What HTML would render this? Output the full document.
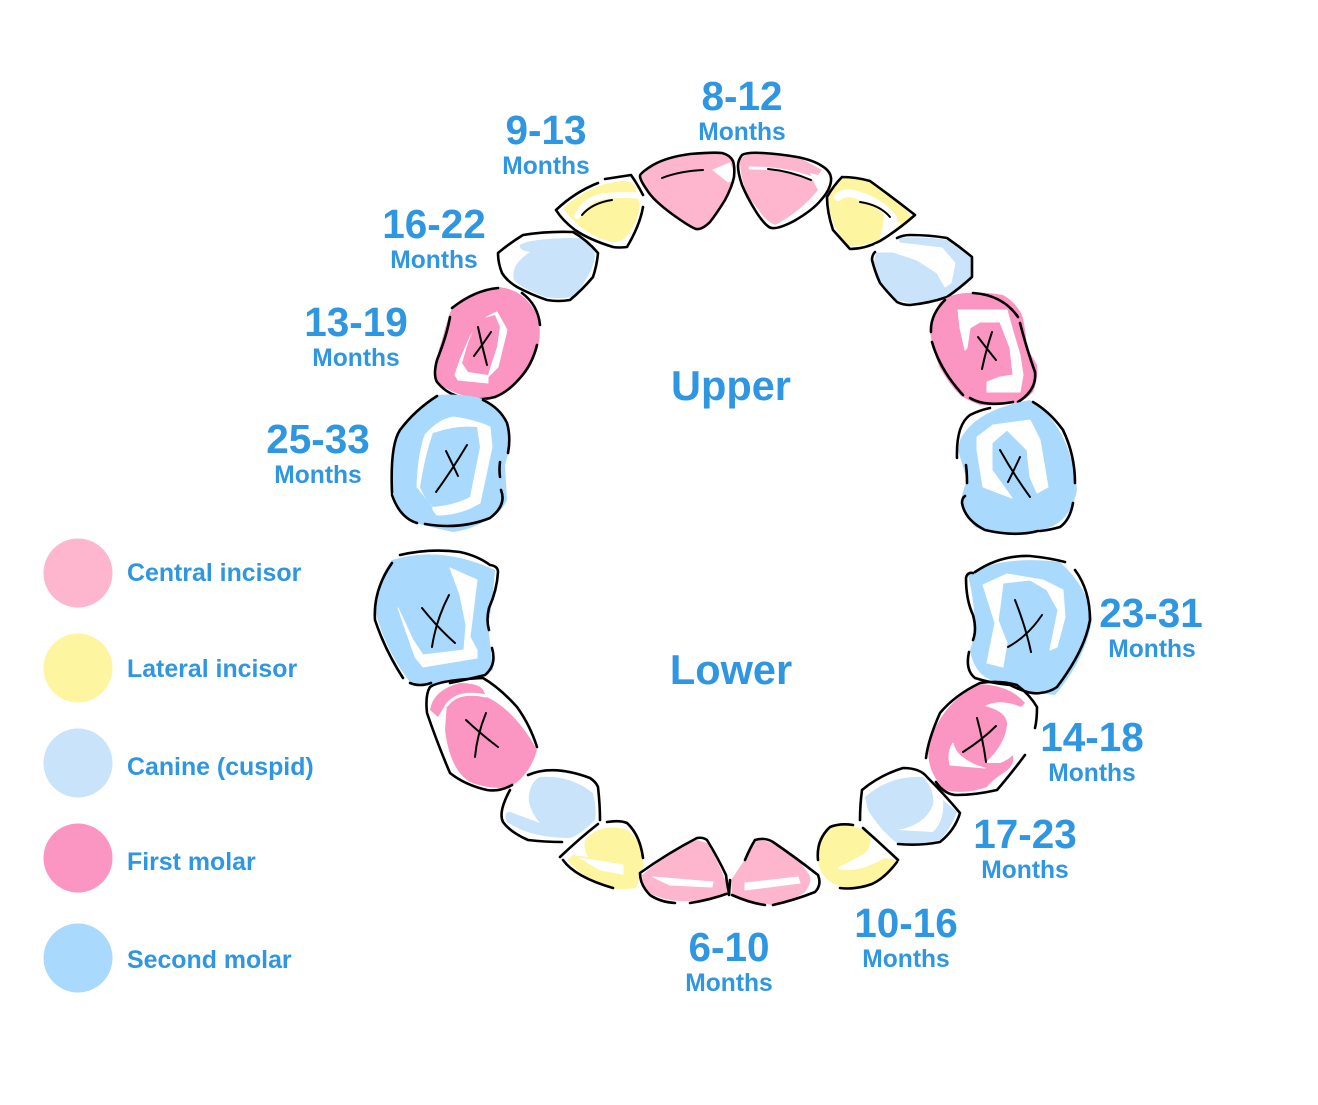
<!DOCTYPE html>
<html><head><meta charset="utf-8"><title>Teeth</title>
<style>
html,body{margin:0;padding:0;background:#fff}
svg{display:block}
text{font-family:"Liberation Sans",Arial,sans-serif;font-weight:bold;fill:#2F96E2;text-anchor:middle}
.n{font-size:40.5px}.m{font-size:24.6px}.t{font-size:41.5px}.l{font-size:24.9px;text-anchor:start}
.o{fill:none;stroke:#000;stroke-width:2.6;stroke-linecap:round;stroke-linejoin:round}
.x{fill:none;stroke:#000;stroke-width:2;stroke-linecap:round}
.w{fill:#fff;stroke:#fff;stroke-width:1;stroke-linejoin:round}.ws{fill:none;stroke:#fff;stroke-linecap:round}
.a{fill:#FDB6CE}.b{fill:#FDF5A0}.c{fill:#C9E3FA}.d{fill:#FB96C3}.e{fill:#A9DAFD}
</style></head><body>
<svg width="1318" height="1105" viewBox="0 0 1318 1105" xmlns="http://www.w3.org/2000/svg">
<rect width="1318" height="1105" fill="#fff"/>

<!-- upper central left -->
<path class="a" d="M653 165Q667 157 690 154Q713 152 722 153Q730 155 733 161L732 187Q725 200 717 213Q710 222 702 229Q696 229 690 227Q672 214 653 200Q647 190 641 180Q640 173 653 165Z"/>
<path class="w" d="M713 170L730 163L735 180L728 182Z"/>
<path class="o" d="M653 165Q667 157 690 154Q713 152 722 153Q730 155 733 161Q735 167 734 177Q732 187 725 200Q717 213 710 222Q702 230 696 229Q690 227 672 214Q653 200 647 190Q640 180 640 176Q640 173 653 165Z"/>
<path class="x" d="M662 178Q680 171 703 170"/>

<!-- upper central right -->
<path class="a" d="M740 160Q745 152 765 152L800 158L822 170L818 175L810 173Q815 185 818 190Q800 212 775 225Q765 220 760 212L747 195Q740 175 740 160Z"/>
<path class="ws" stroke-width="3" d="M750 168Q785 168 812 178"/>
<path class="o" d="M742 155Q747 152 763 153Q780 154 797 157Q813 160 822 166Q832 172 831 181Q830 190 821 200Q813 210 794 221Q775 231 769 227Q763 223 755 210Q747 197 742 185Q738 173 738 166Q738 160 742 155Z"/>
<path class="x" d="M768 169Q790 171 811 180"/>

<!-- upper lateral left -->
<path class="b" d="M563 208Q590 184 622 181Q636 181 636 190L640 205Q637 225 625 238Q615 245 605 240Q580 232 563 208Z"/>
<path class="ws" stroke-width="6" d="M577 216Q586 198 606 196Q625 194 642 196"/>
<path class="o" d="M556 210Q575 192 598 183M605 179L631 175Q638 185 643 195M643 207Q640 225 627 247Q618 248 613 247Q590 240 575 230Q562 220 556 210"/>
<path class="x" d="M582 215Q592 203 612 200"/>

<!-- upper lateral right -->
<path class="b" d="M828 195Q835 180 845 178Q860 178 872 182Q895 197 912 217Q900 230 880 240Q860 247 848 246Q835 232 830 212Z"/>
<path class="ws" stroke-width="8" d="M838 197Q846 190 860 196Q880 202 893 218"/>
<path class="w" d="M885 212L900 224L880 240L883 228Z"/>
<path class="o" d="M842 177Q856 177 870 181M870 181Q892 197 915 215Q898 230 880 241Q865 249 850 249Q842 240 833 230Q827 212 827 197M827 197Q834 185 842 177"/>
<path class="x" d="M860 202Q880 205 890 217"/>

<!-- upper canine left -->
<path class="c" d="M520 245Q530 238 580 238Q595 245 595 257Q592 275 573 297Q550 300 540 295Q520 287 514 280Q510 265 530 252Q518 250 520 245Z"/>
<path class="o" d="M498 253Q510 243 523 235Q548 231 573 232Q587 240 598 253Q597 265 593 277Q582 290 570 300Q558 302 547 300Q532 295 517 287Q507 281 502 273Q498 263 498 253Z"/>

<!-- upper canine right -->
<path class="c" d="M897 238Q925 236 947 240L971 258L971 277Q960 290 947 297Q930 303 910 303L897 300L880 283L874 262L876 252Z"/>
<path class="w" d="M876 252L893 252L917 260L937 273L945 287L951 283L955 263L942 248L900 243L897 238L875 245Z"/>
<path class="o" d="M897 238Q903 235 910 235Q930 235 947 238Q960 247 972 257L972 277Q960 288 947 297Q930 303 910 305Q903 305 897 302Q888 293 880 283Q875 272 872 260Q872 255 875 252"/>

<!-- upper first molar left -->
<path class="d" d="M452 308C460 298 478 289 498 287C512 288 528 295 538 317C541 330 540 340 537 350C533 362 528 370 522 377C512 388 505 393 495 397C482 400 472 399 462 395C452 392 442 387 435 380C433 372 436 358 442 340C445 328 448 318 452 308Z"/>
<path class="w" d="M497 312L507 330L498 367L488 377L488 383L458 380L455 375L460 360L470 337Q480 318 497 312Z"/>
<path class="d" d="M477 320L495 315L500 327L497 347L488 375L468 372L462 363L468 343Z"/>
<path class="o" d="M452 308Q475 290 498 288M522 293Q538 305 540 325M537 345Q532 365 520 378Q508 392 495 397M457 396Q475 402 495 397M437 382Q445 392 457 396M450 317Q447 335 437 360Q433 375 437 382"/>
<path class="x" d="M478 327Q482 346 487 365M491 332Q483 344 474 356"/>

<!-- upper first molar right -->
<path class="d" d="M940 302C948 296 958 293 967 293C980 292 992 293 1003 295C1012 300 1018 307 1022 315C1025 326 1026 337 1027 348C1030 354 1034 359 1037 365C1038 375 1036 385 1033 392C1028 397 1024 400 1020 402C1006 405 993 406 980 405C972 402 966 399 960 395C952 387 946 378 940 368C935 356 932 344 930 332C932 320 935 310 940 302Z"/>
<path class="w" d="M958 310L1007 310L1012 328L1020 355L1023 375L1020 392L987 392L987 382L1000 377L1013 375L1010 348L1000 322L980 322L970 328L967 348L965 350L960 328Z"/>
<path class="o" d="M931 332Q930 315 945 300M973 293Q1003 295 1018 317M1020 323Q1027 350 1035 372Q1037 390 1018 402M1013 402Q985 407 970 398M963 395Q940 370 932 342"/>
<path class="x" d="M978 337Q987 349 996 360M992 332Q986 350 982 369"/>

<!-- upper second molar left -->
<path class="e" d="M393 467Q394 445 400 430Q415 410 437 395Q465 393 487 400Q500 410 507 423Q511 435 510 447L505 465L507 500Q500 515 487 520Q470 530 453 532Q435 528 423 525Q405 520 398 510Q390 490 393 467Z"/>
<path class="w" d="M417 487Q418 455 425 435Q438 420 453 417Q475 420 490 427L492 447L480 503Q460 515 437 515Q432 510 433 507Z"/>
<path class="e" d="M420 487Q425 455 433 433Q455 425 477 427L480 447L470 497Q455 505 433 507Q425 500 420 487Z"/>
<path class="o" d="M392 493Q390 445 400 430Q415 410 437 396M483 400Q500 408 507 423Q511 437 508 453M500 462Q499 470 500 477M501 490Q507 505 490 518Q460 530 425 524M417 523Q400 518 392 495"/>
<path class="x" d="M467 445Q452 470 436 492M446 451Q452 463 458 476"/>

<!-- lower second molar left -->
<path class="e" d="M392 560Q440 545 495 570Q492 610 488 625L493 670Q470 680 430 685L410 682Q385 650 375 610Q376 580 392 560Z"/>
<path class="w" d="M450 568L477 580L470 637L477 650L477 658L423 667L415 657L398 608L413 640L423 655L464 650L466 625L460 595Z"/>
<path class="o" d="M400 555Q430 548 460 552Q478 556 490 565Q498 566 498 572Q497 590 489 608Q486 620 489 630M492 648Q497 665 485 675Q465 680 450 683M431 683Q420 687 410 683M403 678Q385 650 375 620Q373 590 392 563"/>
<path class="x" d="M449 595Q436 620 432 647M422 608Q438 628 455 643"/>

<!-- lower first molar left -->
<path class="d" d="M430 710Q433 690 460 683Q485 683 485 696Q515 710 537 750Q530 775 510 787Q490 790 470 782Q450 770 445 730L447 702L438 717Z"/>
<path class="ws" stroke-width="3" d="M447 705Q458 690 486 696"/>
<path class="o" d="M430 687Q440 680 483 678Q500 688 517 707Q530 725 537 747M512 785Q500 792 487 790Q465 785 450 773Q438 745 427 713Q425 695 430 687"/>
<path class="x" d="M486 713Q477 735 475 757M466 720Q482 735 498 747"/>

<!-- upper second molar right -->
<path class="e" d="M960 440Q975 410 1030 400Q1070 425 1077 490Q1070 525 1040 530Q1000 538 975 527Q962 512 962 495L967 480L958 450Z"/>
<path class="w" d="M977 437L993 425L1030 420L1040 440L1048 487L1037 493L1030 477L1027 450L1007 430L992 443L992 470L1012 498L983 487L977 450Z"/>
<path class="o" d="M957 458Q956 425 970 415Q980 410 990 408M1033 402Q1050 412 1063 430Q1075 455 1075 483M1073 503Q1070 520 1060 527Q1050 530 1040 531M1038 531Q1015 537 985 530Q965 520 962 503Q962 498 965 496M966 465Q967 473 967 483"/>
<path class="x" d="M1000 450Q1014 475 1030 497M1020 457Q1014 470 1008 482"/>

<!-- lower second molar right -->
<path class="e" d="M968 575Q1000 555 1060 562Q1090 590 1092 620Q1085 660 1055 695L1035 693L1003 683Q975 680 970 650Q980 625 968 575Z"/>
<path class="w" d="M983 585L1007 574L1043 580L1063 590L1065 617L1057 647L1050 650L1058 610L1047 590L1030 580L1003 583L1000 607L998 620L1007 643L1003 667L987 663L995 623Z"/>
<path class="o" d="M973 573Q967 572 966 578Q966 600 973 615Q977 630 973 640M969 652Q965 670 975 678Q990 683 1010 685Q1030 695 1040 693Q1050 692 1057 687Q1085 650 1090 620Q1090 590 1075 570M975 572Q1000 555 1030 556Q1050 558 1065 562"/>
<path class="x" d="M1015 600Q1026 628 1031 652M1042 615Q1028 636 1008 647"/>

<!-- lower first molar right -->
<path class="d" d="M978 684Q1010 685 1025 703L1021 707Q1000 698 985 706Q1008 712 1007 725Q1005 745 985 763L1000 763Q1008 760 1013 755Q1015 765 1005 772Q992 780 987 787Q965 795 945 790Q925 770 929 745Q940 705 978 684Z"/>
<path class="w" d="M953 743Q947 752 950 765L985 768Q972 765 962 757Q955 752 953 743Z"/>
<path class="o" d="M980 683Q1000 680 1017 685Q1030 695 1037 707Q1037 720 1035 728M1025 755Q1010 775 997 790Q975 795 957 795Q945 795 936 782M926 758Q928 740 940 713Q955 695 980 683"/>
<path class="x" d="M977 718Q983 740 986 762M996 726Q982 740 963 752"/>

<!-- lower canine left -->
<path class="c" d="M540 777Q570 775 593 793Q597 810 595 820Q580 835 570 838Q530 838 507 822Q503 812 510 812L540 823Q525 805 530 790Q533 780 540 777Z"/>
<path class="o" d="M528 775Q553 764 590 778Q596 782 598 787Q600 805 600 820M562 842Q545 842 528 840Q510 832 503 822Q498 812 510 790"/>

<!-- lower lateral left -->
<path class="b" d="M585 840Q600 822 628 830Q645 845 643 867L636 888Q620 890 610 888Q585 880 567 860L573 855L588 857Q583 848 585 840Z"/>
<path class="w" d="M580 858L623 865L623 874L600 870Z"/>
<path class="o" d="M560 857Q580 838 598 824M607 822Q620 820 627 823Q640 835 643 858M563 860Q575 877 613 888"/>

<!-- lower central left -->
<path class="a" d="M642 875Q668 853 697 840L707 843Q718 860 725 880Q727 888 727 892Q710 900 690 901Q665 902 650 893Q642 885 642 875Z"/>
<path class="w" d="M653 877L713 882L712 887L670 885Z"/>
<path class="o" d="M640 873Q668 853 697 838Q703 837 707 840Q718 858 726 875Q727 885 729 893Q710 900 690 903M675 903Q660 902 650 895Q640 885 640 873"/>

<!-- lower central right -->
<path class="a" d="M731 880Q745 860 757 840Q770 838 800 862L808 873Q814 880 805 892Q785 905 773 905Q750 902 732 895Z"/>
<path class="w" d="M745 883L798 877L800 883L745 890Z"/>
<path class="o" d="M745 860Q750 848 755 840Q765 837 773 842Q795 857 818 875Q822 885 815 892Q795 900 773 905M732 895Q750 903 765 905M730 880L729 895"/>

<!-- lower lateral right -->
<path class="b" d="M818 860Q818 830 840 825Q860 825 870 835Q872 850 862 855L837 868Q855 875 885 858L896 860Q890 880 865 888Q840 890 828 880Q818 870 818 860Z"/>
<path class="o" d="M818 860Q816 840 830 827Q840 823 853 825M863 828Q880 843 898 860M897 862Q885 878 872 884Q855 890 840 888"/>

<!-- lower canine right -->
<path class="c" d="M865 797Q890 775 923 777Q935 790 933 805Q925 825 898 830L933 832Q945 820 943 800L957 812Q950 830 940 840Q920 845 897 843Q880 830 868 810Z"/>
<path class="o" d="M860 820Q860 805 862 790Q880 775 903 768Q920 768 927 777Q945 795 960 813Q955 830 940 842Q920 846 898 844"/>

<!-- labels -->
<text class="n" x="742" y="110">8-12</text><text class="m" x="742" y="140">Months</text>
<text class="n" x="546" y="144">9-13</text><text class="m" x="546" y="174">Months</text>
<text class="n" x="434" y="238">16-22</text><text class="m" x="434" y="268">Months</text>
<text class="n" x="356" y="336">13-19</text><text class="m" x="356" y="366">Months</text>
<text class="n" x="318" y="453">25-33</text><text class="m" x="318" y="483">Months</text>
<text class="n" x="1151" y="627">23-31</text><text class="m" x="1152" y="657">Months</text>
<text class="n" x="1092" y="751">14-18</text><text class="m" x="1092" y="781">Months</text>
<text class="n" x="1025" y="848">17-23</text><text class="m" x="1025" y="878">Months</text>
<text class="n" x="906" y="937">10-16</text><text class="m" x="906" y="967">Months</text>
<text class="n" x="729" y="961">6-10</text><text class="m" x="729" y="991">Months</text>
<text class="t" x="731" y="400">Upper</text>
<text class="t" x="731" y="684">Lower</text>

<!-- legend -->
<circle class="a" cx="78" cy="573" r="34.5"/>
<circle class="b" cx="78" cy="668" r="34.5"/>
<circle class="c" cx="78" cy="763" r="34.5"/>
<circle class="d" cx="78" cy="858" r="34.5"/>
<circle class="e" cx="78" cy="958" r="34.5"/>
<text class="l" x="127" y="581">Central incisor</text>
<text class="l" x="127" y="677">Lateral incisor</text>
<text class="l" x="127" y="775">Canine (cuspid)</text>
<text class="l" x="127" y="870">First molar</text>
<text class="l" x="127" y="968">Second molar</text>
</svg>
</body></html>
